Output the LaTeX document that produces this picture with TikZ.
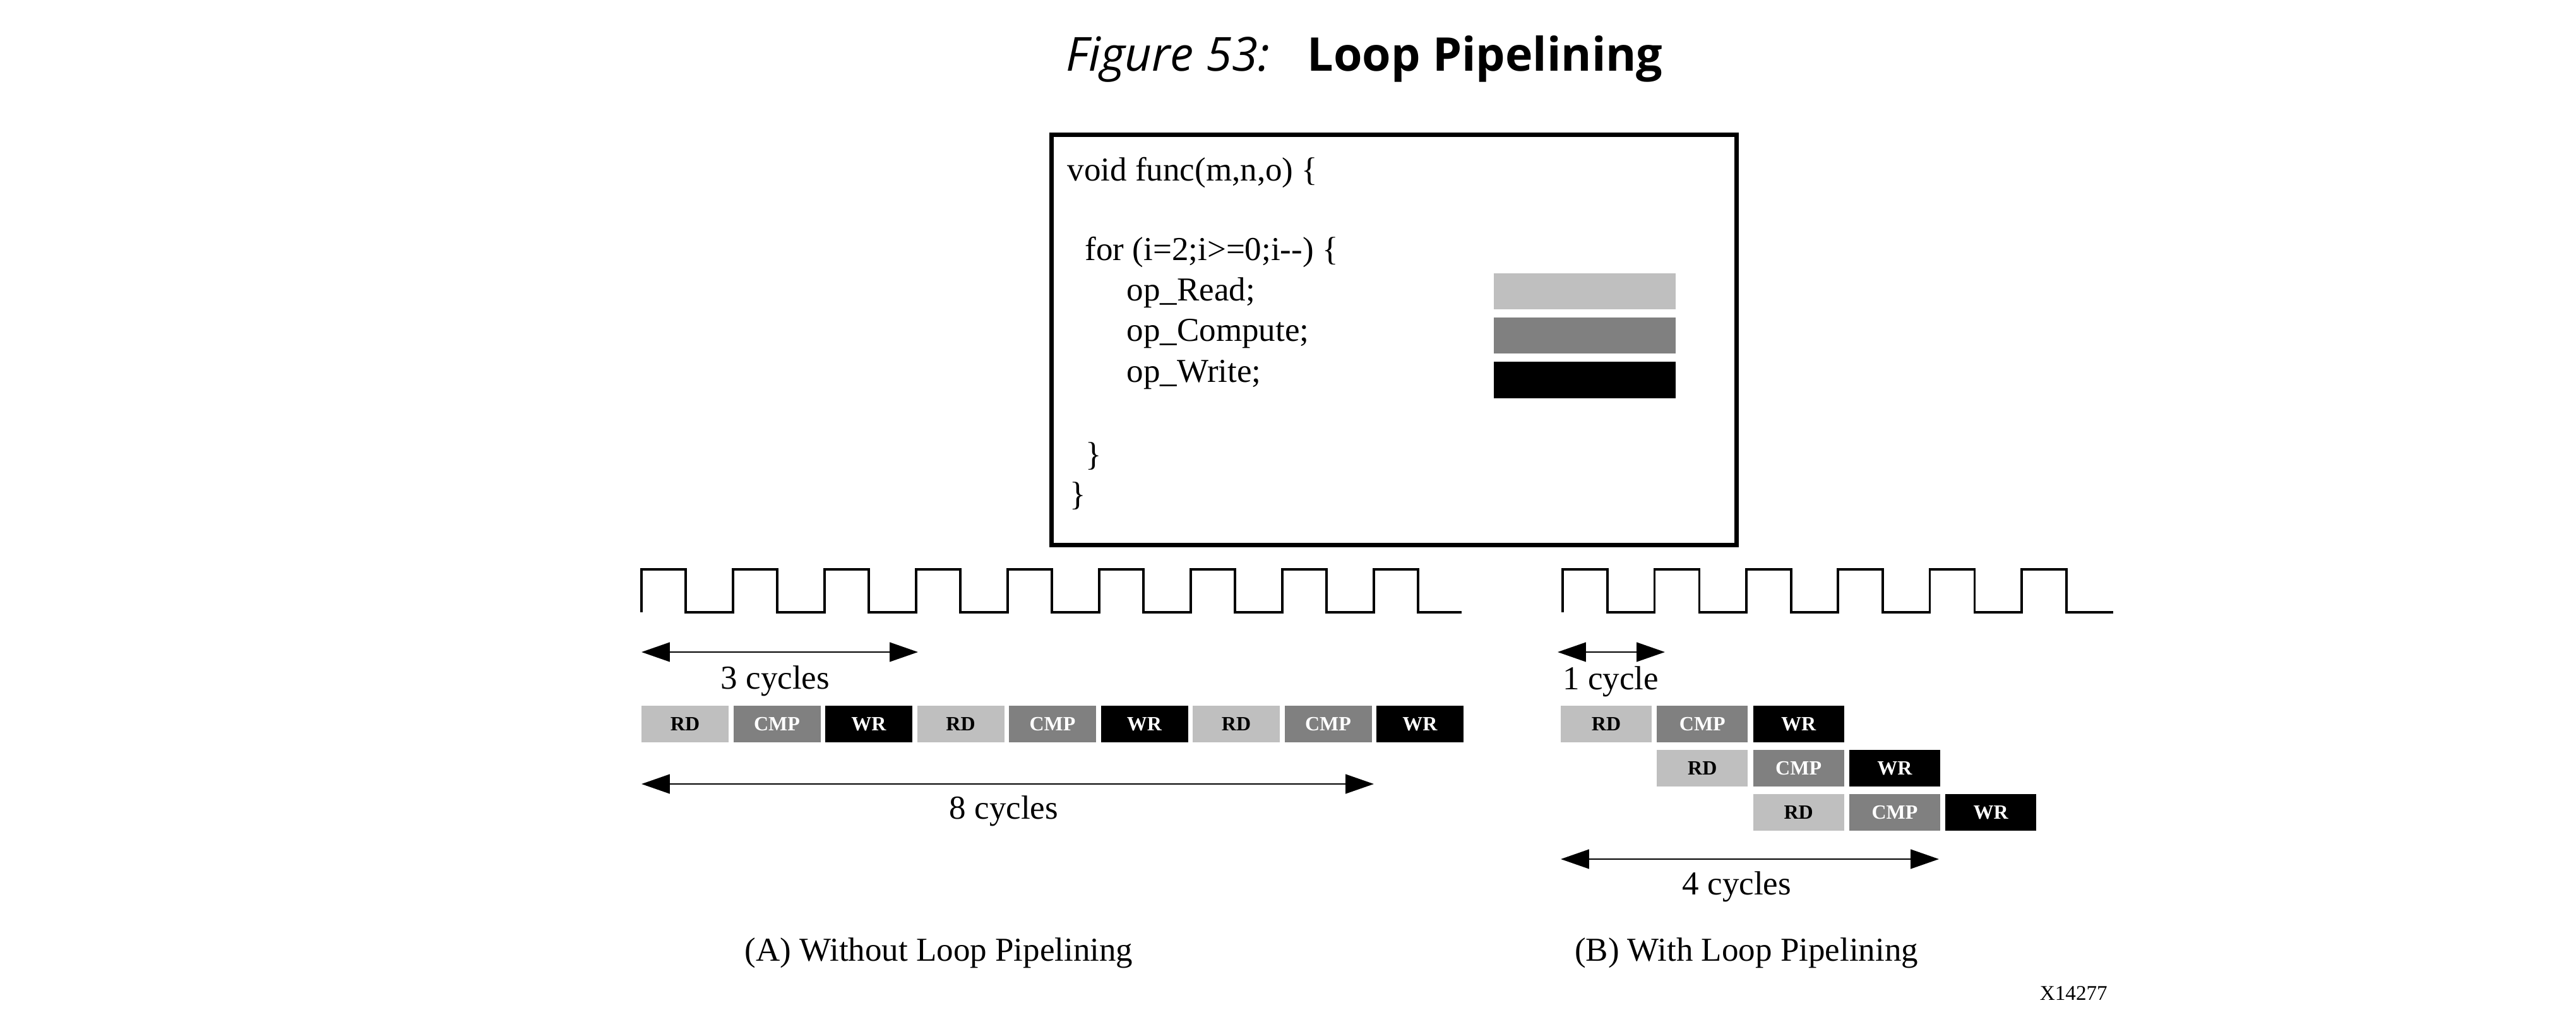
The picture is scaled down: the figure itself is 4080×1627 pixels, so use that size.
\documentclass[tikz,border=0pt]{standalone}
\usepackage{fontspec}
\setmainfont{Liberation Serif}
\newfontfamily\titlefont{Open Sans}
\usetikzlibrary{arrows.meta}
\definecolor{lightg}{RGB}{191,191,191}
\definecolor{midg}{RGB}{128,128,128}
\begin{document}
\begin{tikzpicture}[x=0.25pt,y=-0.25pt,
  txt/.style={inner sep=0pt, anchor=base west, font=\fontsize{13.25pt}{15pt}\selectfont},
  ctxt/.style={inner sep=0pt, anchor=base, font=\fontsize{13.25pt}{15pt}\selectfont},
  blk/.style={inner sep=0pt, minimum height=14.5pt, font=\fontsize{8pt}{9pt}\selectfont\bfseries},
  rdA/.style={blk, fill=lightg, text=black, minimum width=34.5pt},
  cmpA/.style={blk, fill=midg, text=white, minimum width=34.5pt},
  wrA/.style={blk, fill=black, text=white, minimum width=34.5pt},
  rdB/.style={blk, fill=lightg, text=black, minimum width=36pt},
  cmpB/.style={blk, fill=midg, text=white, minimum width=36pt},
  wrB/.style={blk, fill=black, text=white, minimum width=36pt},
  clk/.style={line width=0.9pt, line join=miter},
  dim/.style={line width=0.7pt, {Triangle[length=11.2pt,width=7.6pt]}-{Triangle[length=11.2pt,width=7.6pt]}},
  ttlstyle/.style={inner sep=0pt, anchor=base west}
]
\useasboundingbox (0,0) rectangle (4080,1627);

% title
\node[ttlstyle, font=\titlefont\itshape\fontsize{18.6pt}{21pt}\selectfont] (fig) at (1688,112) {Figure 53:};
\node[ttlstyle, font=\titlefont\bfseries\fontsize{18.4pt}{21pt}\selectfont] (ttl) at (2070,112) {Loop Pipelining};

% code box
\draw[line width=1.75pt] (1665,213) rectangle (2750,863);
\node[txt] (l1) at (1690,286) {void func(m,n,o) \{};
\node[txt] (l2) at (1718,412) {for (i=2;i>=0;i-{}-) \{};
\node[txt] (l3) at (1784,476) {op\_Read;};
\node[txt] (l4) at (1784,540) {op\_Compute;};
\node[txt] (l5) at (1784,605) {op\_Write;};
\node[txt] (l6) at (1719,737) {\}};
\node[txt] (l7) at (1694,800) {\}};
\fill[lightg] (2366,433) rectangle (2654,490);
\fill[midg] (2366,503) rectangle (2654,560);
\fill[black] (2366,573) rectangle (2654,631);

% clock A
\draw[clk] (1016,970) \foreach \k in {1,...,8} { -- ++(0,-68) -- ++(70,0) -- ++(0,68) -- ++(75,0) }
  -- ++(0,-68) -- ++(70,0) -- ++(0,68) -- ++(69,0);
% clock B
\draw[clk] (2475,970) \foreach \k in {1,...,6} { -- ++(0,-68) -- ++(71,0) -- ++(0,68) -- ++(74.4,0) };

% dimension arrows A
\coordinate (a3l) at (1016,1033);
\coordinate (a3r) at (1454,1033);
\draw[dim] (a3l) -- (a3r);
\node[ctxt] (c3) at (1228,1091) {3 cycles};
\coordinate (a8l) at (1016,1242);
\coordinate (a8r) at (2176,1242);
\draw[dim] (a8l) -- (a8r);
\node[ctxt] (c8) at (1590,1297) {8 cycles};

% blocks A
\foreach \i in {0,1,2} {
  \node[rdA] (ard\i) at ({1085+3*\i*145.5},1147) {RD};
  \node[cmpA] (acmp\i) at ({1085+(3*\i+1)*145.5},1147) {CMP};
  \node[wrA] (awr\i) at ({1085+(3*\i+2)*145.5},1147) {WR};
}

% dimension arrows B
\coordinate (b1l) at (2467,1033);
\coordinate (b1r) at (2637,1033);
\draw[dim] (b1l) -- (b1r);
\node[ctxt] (c1) at (2551,1092) {1 cycle};
\coordinate (b4l) at (2472,1361);
\coordinate (b4r) at (3071,1361);
\draw[dim] (b4l) -- (b4r);
\node[ctxt] (c4) at (2751,1417) {4 cycles};

% blocks B
\foreach \r in {0,1,2} {
  \node[rdB] (brd\r) at ({2544+\r*152.3},{1147+\r*70}) {RD};
  \node[cmpB] (bcmp\r) at ({2544+(\r+1)*152.3},{1147+\r*70}) {CMP};
  \node[wrB] (bwr\r) at ({2544+(\r+2)*152.3},{1147+\r*70}) {WR};
}

% captions
\node[ctxt] (capA) at (1487,1522) {(A) Without Loop Pipelining};
\node[ctxt] (capB) at (2766,1522) {(B) With Loop Pipelining};
\node[inner sep=0pt, anchor=base west, font=\fontsize{8.3pt}{9pt}\selectfont] (xid) at (3230,1584) {X14277};
\end{tikzpicture}
\end{document}
